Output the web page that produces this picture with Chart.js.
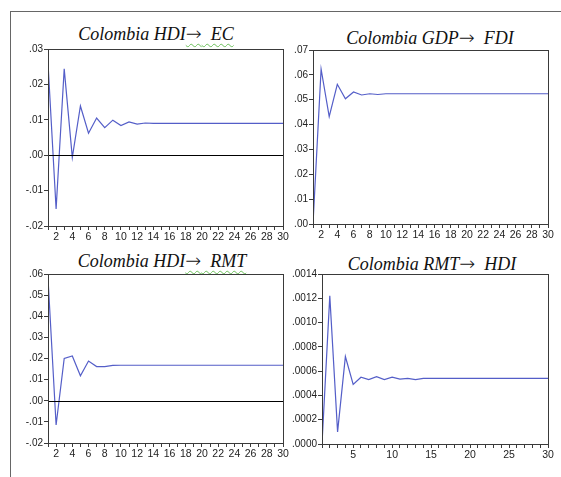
<!DOCTYPE html>
<html>
<head>
<meta charset="utf-8">
<script src="https://cdn.jsdelivr.net/npm/chart.js@4"></script>
<style>
  body { margin: 0; background: #fff; width: 561px; height: 477px; overflow: hidden; position: relative; }
  .frame { position: absolute; left: 10px; top: 11px; width: 551px; height: 466px;
           border-left: 1px solid #666; border-top: 1px solid #666; }
  .title { position: absolute; transform: translate(-50%, -50%); white-space: nowrap;
           font-family: 'Liberation Serif', 'DejaVu Serif', serif; font-style: italic; font-size: 18px; color: #111; }
  .title .u { text-decoration: underline wavy #6bbf5a; text-decoration-thickness: 1px; text-underline-offset: 3px; }
  .title .arr { font-family: 'DejaVu Sans', sans-serif; font-style: normal; font-size: 19px; font-weight: 300; }
  canvas { position: absolute; }
</style>
</head>
<body>
<div class="frame"></div>
<div class="title" style="left:156px; top:33px;">Colombia HDI<span class="u"><span class="arr">→</span>&nbsp; EC</span></div>
<div class="title" style="left:430px; top:37px;">Colombia GDP<span class="arr">→</span>&nbsp; FDI</div>
<div class="title" style="left:162px; top:260px;">Colombia HDI<span class="u"><span class="arr">→</span>&nbsp; RMT</span></div>
<div class="title" style="left:432px; top:263px;">Colombia RMT<span class="arr">→</span>&nbsp; HDI</div>
<canvas id="c1"></canvas>
<canvas id="c2"></canvas>
<canvas id="c3"></canvas>
<canvas id="c4"></canvas>
<script>
// 脉冲响应期数
const periods = [1, 2, 3, 4, 5, 6, 7, 8, 9, 10, 11, 12, 13, 14, 15,
                 16, 17, 18, 19, 20, 21, 22, 23, 24, 25, 26, 27, 28, 29, 30];

// 1. HDI → EC
const hdiToEc = [0.0260, -0.0152, 0.0244, -0.0006, 0.0139, 0.0062, 0.0105, 0.0078, 0.0099, 0.0084,
                 0.0094, 0.0088, 0.0091, 0.0090, 0.0090, 0.0090, 0.0090, 0.0090, 0.0090, 0.0090,
                 0.0090, 0.0090, 0.0090, 0.0090, 0.0090, 0.0090, 0.0090, 0.0090, 0.0090, 0.0090];
// 2. GDP → FDI
const gdpToFdi = [0.0000, 0.0623, 0.0432, 0.0562, 0.0504, 0.0531, 0.0519, 0.0524, 0.0521, 0.0524,
                  0.0524, 0.0524, 0.0524, 0.0524, 0.0524, 0.0524, 0.0524, 0.0524, 0.0524, 0.0524,
                  0.0524, 0.0524, 0.0524, 0.0524, 0.0524, 0.0524, 0.0524, 0.0524, 0.0524, 0.0524];
// 3. HDI → RMT
const hdiToRmt = [0.0580, -0.0115, 0.0200, 0.0212, 0.0118, 0.0188, 0.0162, 0.0162, 0.0167, 0.0168,
                  0.0168, 0.0168, 0.0168, 0.0168, 0.0168, 0.0168, 0.0168, 0.0168, 0.0168, 0.0168,
                  0.0168, 0.0168, 0.0168, 0.0168, 0.0168, 0.0168, 0.0168, 0.0168, 0.0168, 0.0168];
// 4. RMT → HDI
const rmtToHdi = [0.00000, 0.00122, 0.00010, 0.00072, 0.00049, 0.00055, 0.00053, 0.000555, 0.00053, 0.00055,
                  0.000535, 0.00054, 0.00053, 0.00054, 0.00054, 0.00054, 0.00054, 0.00054, 0.00054, 0.00054,
                  0.00054, 0.00054, 0.00054, 0.00054, 0.00054, 0.00054, 0.00054, 0.00054, 0.00054, 0.00054];

// y 轴刻度 [最小, 最大, 步长, 小数位]
const yTicks1 = [-0.02, 0.03, 0.01, 2];
const yTicks2 = [0.00, 0.07, 0.01, 2];
const yTicks3 = [-0.02, 0.06, 0.01, 2];
const yTicks4 = [0.0000, 0.0014, 0.0002, 4];

const LINE_COLOR = 'rgb(84, 94, 200)';
const AXIS_COLOR = '#3a3a3a';
const PAD_TOP = 8, PAD_RIGHT = 12, X_H = 24;

// 画外框（上、右）和零线
const framePlugin = {
    id: 'frame',
    afterDatasetsDraw(chart, args, opts) {
        const { ctx, chartArea: a, scales } = chart;
        ctx.save();
        if (opts.zero) {
            const y0 = Math.round(scales.y.getPixelForValue(0)) + 0.5;
            ctx.strokeStyle = '#000';
            ctx.lineWidth = 1;
            ctx.beginPath();
            ctx.moveTo(a.left, y0);
            ctx.lineTo(a.right, y0);
            ctx.stroke();
        }
        ctx.strokeStyle = AXIS_COLOR;
        ctx.lineWidth = 1;
        ctx.strokeRect(Math.round(a.left) + 0.5, Math.round(a.top) + 0.5,
                       Math.round(a.right - a.left), Math.round(a.bottom - a.top));
        ctx.restore();
    }
};

function makeChart(id, values, yt, box, yW, labelEvery, zero) {
    const canvas = document.getElementById(id);
    const w = (box.right - box.left) + yW + PAD_RIGHT;
    const h = (box.bottom - box.top) + PAD_TOP + X_H;
    canvas.width = w;
    canvas.height = h;
    canvas.style.width = w + 'px';
    canvas.style.height = h + 'px';
    canvas.style.left = (box.left - yW) + 'px';
    canvas.style.top = (box.top - PAD_TOP) + 'px';

    new Chart(canvas.getContext('2d'), {
        type: 'line',
        data: {
            datasets: [{
                data: periods.map((p, i) => ({ x: p, y: values[i] })),
                borderColor: LINE_COLOR,
                borderWidth: 1.2,
                pointRadius: 0,
                tension: 0,
                fill: false
            }]
        },
        plugins: [framePlugin],
        options: {
            responsive: false,
            animation: false,
            devicePixelRatio: 1,
            layout: { padding: { top: PAD_TOP, right: PAD_RIGHT, left: 0, bottom: 0 } },
            plugins: {
                legend: { display: false },
                tooltip: { enabled: false },
                frame: { zero: zero }
            },
            scales: {
                x: {
                    type: 'linear',
                    min: 1,
                    max: 30,
                    afterFit: (s) => { s.height = X_H; },
                    ticks: {
                        stepSize: 1,
                        autoSkip: false,
                        maxRotation: 0,
                        padding: 1,
                        color: '#222',
                        font: { family: "'Liberation Sans', Arial, sans-serif", size: 10.5 },
                        callback: (v) => (v % labelEvery === 0 ? String(v) : '')
                    },
                    grid: { drawOnChartArea: false, tickLength: 4, color: AXIS_COLOR },
                    border: { color: AXIS_COLOR }
                },
                y: {
                    min: yt[0],
                    max: yt[1],
                    afterFit: (s) => { s.width = yW; },
                    ticks: {
                        stepSize: yt[2],
                        padding: 1,
                        color: '#222',
                        font: { family: "'Liberation Sans', Arial, sans-serif", size: 10 },
                        callback: (v) => v.toFixed(yt[3]).replace('0.', '.')
                    },
                    grid: { drawOnChartArea: false, tickLength: 4, color: AXIS_COLOR },
                    border: { color: AXIS_COLOR }
                }
            }
        }
    });
}

makeChart('c1', hdiToEc, yTicks1, { left: 48, top: 49, right: 283, bottom: 226 }, 40, 2, true);
makeChart('c2', gdpToFdi, yTicks2, { left: 313, top: 50, right: 548, bottom: 224 }, 40, 2, false);
makeChart('c3', hdiToRmt, yTicks3, { left: 48, top: 274, right: 283, bottom: 443 }, 40, 2, true);
makeChart('c4', rmtToHdi, yTicks4, { left: 322, top: 274, right: 548, bottom: 444 }, 46, 5, false);
</script>
</body>
</html>
